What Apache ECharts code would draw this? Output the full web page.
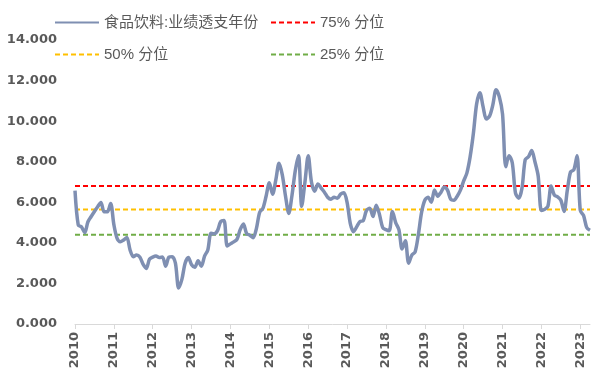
<!DOCTYPE html>
<html><head><meta charset="utf-8">
<script src="https://cdn.jsdelivr.net/npm/echarts@6/dist/echarts.min.js"></script>
<style>html,body{margin:0;padding:0;background:#fff}#c{width:600px;height:381px}</style>
</head><body><div id="c"></div>
<script>
const seriesName = '食品饮料:业绩透支年份';
const pNames = ['75% 分位', '50% 分位', '25% 分位'];
const startYear = 2010;
const yearLabels = ['2010','2011','2012','2013','2014','2015','2016','2017','2018','2019','2020','2021','2022','2023'];
const values = [
  6.57, 4.88, 4.79, 4.50, 5.04, 5.30, 5.55, 5.78, 5.99, 5.53, 5.53, 5.94,
  4.90, 4.22, 4.05, 4.14, 4.27, 3.65, 3.32, 3.40, 3.30, 2.95, 2.74, 3.20,
  3.30, 3.35, 3.28, 3.30, 2.85, 3.30, 3.32, 3.00, 1.78, 2.20, 3.00, 3.28,
  2.92, 2.80, 3.12, 2.85, 3.35, 3.65, 4.47, 4.45, 4.60, 5.05, 5.10, 3.85,
  3.95, 4.05, 4.17, 4.65, 4.93, 4.45, 4.38, 4.25, 4.70, 5.50, 5.70, 6.30,
  6.96, 6.40, 7.10, 7.92, 7.35, 6.30, 5.45, 6.35, 7.55, 8.30, 5.80, 7.00,
  8.30, 7.00, 6.55, 6.90, 6.70, 6.50, 6.25, 6.15, 6.25, 6.20, 6.40, 6.47,
  6.00, 4.95, 4.55, 4.80, 5.05, 5.10, 5.60, 5.70, 5.30, 5.85, 5.40, 4.75,
  4.65, 4.60, 5.55, 5.00, 4.65, 3.70, 4.10, 3.00, 3.40, 3.55, 4.40, 5.50,
  6.10, 6.25, 6.00, 6.60, 6.30, 6.50, 6.75, 6.60, 6.15, 6.10, 6.30, 6.60,
  7.05, 7.45, 8.25, 9.40, 10.85, 11.40, 10.70, 10.10, 10.25, 10.80, 11.55, 11.20,
  10.35, 7.75, 8.30, 7.95, 6.45, 6.20, 6.70, 8.10, 8.24, 8.55, 8.00, 7.30,
  5.60, 5.65, 5.80, 6.80, 6.35, 6.27, 6.10, 5.55, 6.60, 7.50, 7.60, 8.30,
  5.60, 5.35, 4.75, 4.62
];
const percentiles = [6.80, 5.65, 4.40];
const pColors = ['#FF0000', '#FFC000', '#70AD47'];

const categories = values.map((v, i) => (startYear + Math.floor(i / 12)) + '-' + String(i % 12 + 1).padStart(2, '0'));
const isYearStart = (i) => i % 12 === 0;

const chart = echarts.init(document.getElementById('c'), null, {renderer: 'canvas'});
const axisFont = '"DejaVu Sans", "Liberation Sans", sans-serif';
const legendText = {color: '#595959', fontSize: 15, fontFamily: '"Liberation Sans", "Noto Sans CJK SC", sans-serif'};
const legendCommon = {orient: 'vertical', top: 10, itemWidth: 44, itemHeight: 14, itemGap: 17, itemTextGap: 3,
  textStyle: legendText, itemStyle: {opacity: 0}};

const series = [{
  name: seriesName, type: 'line', data: values, symbol: 'none', smooth: 0.3,
  lineStyle: {color: '#7F8FB2', width: 3.5}, itemStyle: {color: '#7F8FB2'}, z: 5
}];
percentiles.forEach((p, k) => {
  series.push({
    name: pNames[k], type: 'line', data: categories.map(() => p), symbol: 'none',
    lineStyle: {color: pColors[k], width: 2, type: [5, 3]}, itemStyle: {color: pColors[k]}, z: 3
  });
});

chart.setOption({
  animation: false,
  backgroundColor: '#fff',
  legend: [
    Object.assign({data: [seriesName, pNames[1]], left: 49}, legendCommon),
    Object.assign({data: [pNames[0], pNames[2]], left: 265}, legendCommon)
  ],
  grid: {left: 75, right: 10, top: 40, bottom: 57, containLabel: false},
  xAxis: {
    type: 'category', data: categories, boundaryGap: false,
    axisLine: {lineStyle: {color: '#D9D9D9', width: 1}},
    axisTick: {show: true, interval: (i) => isYearStart(i), length: 5, lineStyle: {color: '#D9D9D9'}},
    axisLabel: {
      interval: (i) => isYearStart(i), rotate: 90, color: '#595959', fontSize: 13, fontWeight: 'bold',
      fontFamily: axisFont, margin: 8,
      formatter: (v, i) => yearLabels[Math.floor(i / 12)]
    },
    splitLine: {show: false}
  },
  yAxis: {
    type: 'value', min: 0, max: 14, interval: 2,
    axisLine: {show: false}, axisTick: {show: false}, splitLine: {show: false},
    axisLabel: {color: '#595959', fontSize: 13, fontWeight: 'bold', fontFamily: axisFont, margin: 18,
      formatter: (v) => v.toFixed(3)}
  },
  series: series
});
</script></body></html>
